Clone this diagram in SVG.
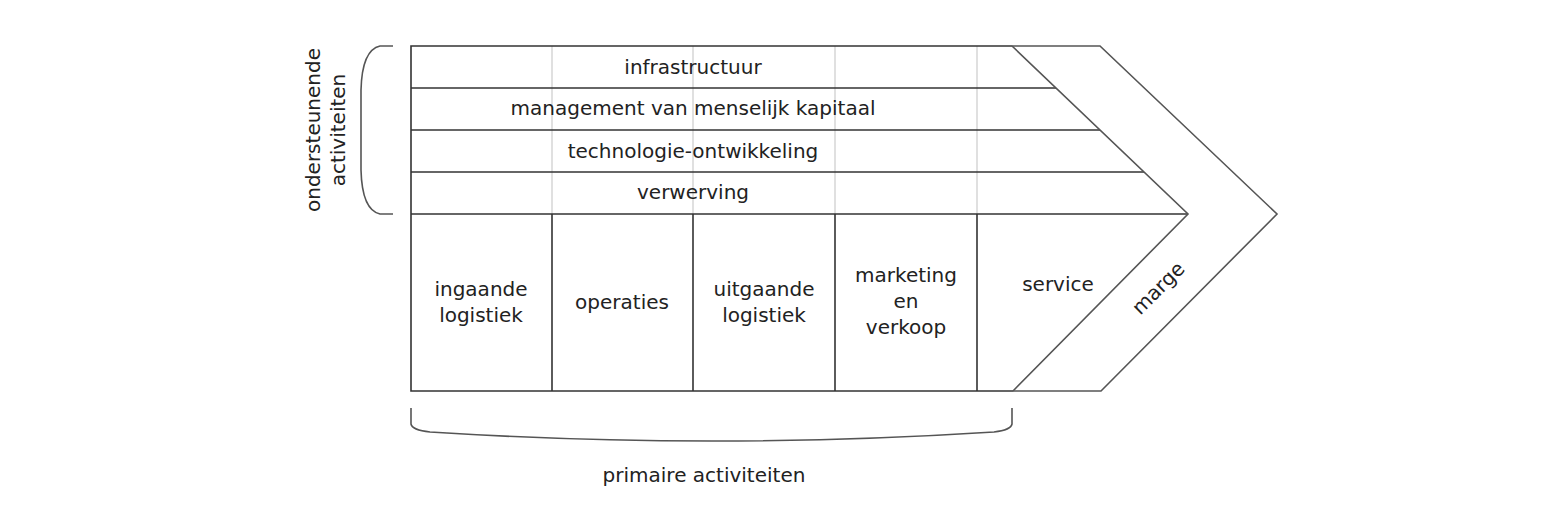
<svg xmlns="http://www.w3.org/2000/svg" width="1568" height="530" viewBox="0 0 1568 530">
<style>
.l{stroke:#333;stroke-width:1.6;fill:none}
.g{stroke:#ccc;stroke-width:1.2;fill:none}
.b{stroke:#555;stroke-width:1.6;fill:none}
text{font-family:"DejaVu Sans",sans-serif;font-size:20px;fill:#222;text-anchor:middle}
</style>
<rect width="1568" height="530" fill="#fff"/>
<g id="grid">
<line class="g" x1="552" y1="46" x2="552" y2="214"/>
<line class="g" x1="693" y1="46" x2="693" y2="214"/>
<line class="g" x1="835" y1="46" x2="835" y2="214"/>
<line class="g" x1="977" y1="46" x2="977" y2="214"/>
</g>
<g id="frame">
<polyline class="l" points="1012,46 411,46 411,391 1013,391"/>
<line class="l" x1="411" y1="88" x2="1056" y2="88"/>
<line class="l" x1="411" y1="130" x2="1100" y2="130"/>
<line class="l" x1="411" y1="172" x2="1144" y2="172"/>
<line class="l" x1="411" y1="214" x2="1188" y2="214"/>
<line class="l" x1="552" y1="214" x2="552" y2="391"/>
<line class="l" x1="693" y1="214" x2="693" y2="391"/>
<line class="l" x1="835" y1="214" x2="835" y2="391"/>
<line class="l" x1="977" y1="214" x2="977" y2="391"/>
</g>
<g id="marge">
<polyline class="b" points="1012,46 1188,214 1013,391"/>
<polyline class="b" points="1012,46 1100,46 1277,214 1101,391 1013,391"/>
<text transform="translate(1163,293) rotate(-45)">marge</text>
</g>
<g id="support">
<text x="693" y="74">infrastructuur</text>
<text x="693" y="115">management van menselijk kapitaal</text>
<text x="693" y="158">technologie-ontwikkeling</text>
<text x="693" y="199">verwerving</text>
</g>
<g id="primary">
<text x="481" y="296">ingaande</text><text x="481" y="322">logistiek</text>
<text x="622" y="309">operaties</text>
<text x="764" y="296">uitgaande</text><text x="764" y="322">logistiek</text>
<text x="906" y="282">marketing</text><text x="906" y="308">en</text><text x="906" y="334">verkoop</text>
<text x="1058" y="291">service</text>
</g>
<g id="braces">
<path class="b" d="M393,46 L380,46 Q362,50 361,90 L361,170 Q362,210 380,214 L393,214"/>
<path class="b" d="M411,408 L411,424 Q412,430 430,432 Q712,450 994,432 Q1011,430 1012,424 L1012,408"/>
<text transform="translate(320,130) rotate(-90)">ondersteunende</text>
<text transform="translate(345,130) rotate(-90)">activiteiten</text>
<text x="704" y="482">primaire activiteiten</text>
</g>
</svg>
